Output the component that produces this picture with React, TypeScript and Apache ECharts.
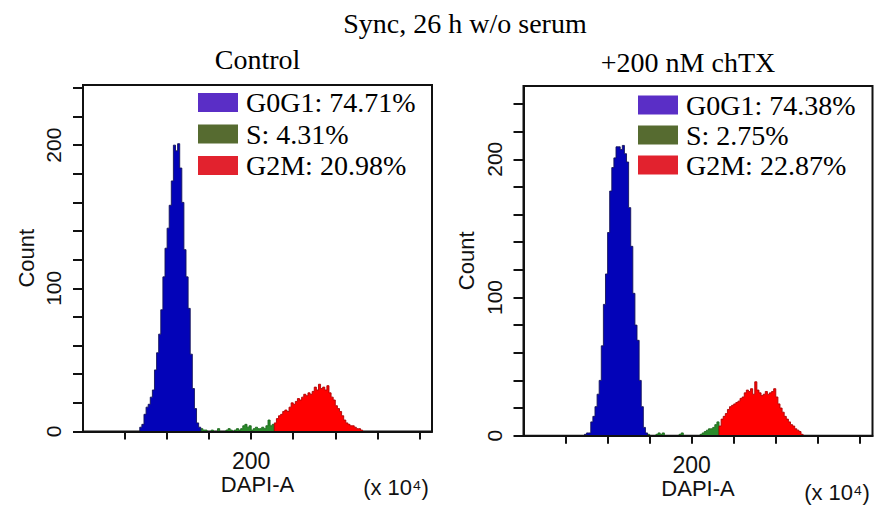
import React, { useEffect, useRef } from "react";
import * as echarts from "echarts";

// ---------- data ----------
const MAIN_TITLE = "Sync, 26 h w/o serum";
const PANEL_TITLES = ["Control", "+200 nM chTX"];
const PHASES = ["G0G1", "S", "G2M"];
const CONTROL_PCT = ["74.71", "4.31", "20.98"];
const CHTX_PCT = ["74.38", "2.75", "22.87"];

// histogram bins: DAPI-A (x10^4), bin width in the same units
const BIN_WIDTH = 2.5;

const CONTROL_STARTS = [67.5, 140, 227.5];
const CONTROL_G0G1 = [3, 5, 12, 17, 19, 24, 29, 43, 55, 68, 85, 108, 128, 142, 158, 175, 200, 196, 201, 184, 160, 127, 108, 86, 54, 30, 16, 6, 3];
const CONTROL_S = [2, 1, 1, 0, 0, 1, 0, 0, 2, 0, 0, 0, 1, 2, 1, 0, 1, 2, 1, 2, 4, 5, 3, 4, 1, 2, 3, 2, 2, 3, 2, 4, 8, 4, 5];
const CONTROL_G2M = [6, 9, 11, 12, 14, 15, 14, 17, 20, 19, 21, 23, 22, 24, 26, 25, 27, 26, 28, 31, 29, 33, 30, 31, 29, 32, 27, 24, 22, 18, 16, 14, 11, 8, 6, 5, 4, 4, 3, 2, 2, 1];

const CHTX_STARTS = [72.5, 147.5, 232.5];
const CHTX_G0G1 = [1, 2, 2, 10, 14, 21, 30, 40, 65, 95, 117, 147, 177, 194, 201, 209, 209, 207, 210, 204, 198, 165, 137, 103, 80, 69, 40, 21, 6, 2];
const CHTX_S = [1, 0, 0, 0, 1, 2, 1, 2, 0, 0, 0, 0, 0, 0, 0, 1, 2, 0, 0, 0, 0, 0, 0, 0, 0, 1, 2, 3, 4, 5, 5, 6, 8, 10];
const CHTX_G2M = [7, 12, 14, 16, 19, 21, 22, 23, 24, 25, 27, 28, 31, 33, 32, 34, 30, 39, 33, 31, 29, 30, 32, 30, 31, 32, 34, 28, 23, 20, 17, 14, 12, 10, 8, 7, 5, 4, 3, 1];

const X_MAX = 415;
const X_TICKS = [50, 100, 150, 200, 250, 300, 350, 400];
const X_LABELS = [200];
const Y_MAX = [242, 253];
const Y_TICKS = [0, 20, 40, 60, 80, 100, 120, 140, 160, 180, 200, 220, 240];
const Y_LABELS = [0, 100, 200];
const X_NAME = "DAPI-A";
const X_UNIT = "(x 10\u2074)";
const Y_NAME = "Count";

// ---------- styles ----------
const SERIF = "'Liberation Serif', 'Times New Roman', serif";
const SANS = "'Liberation Sans', Arial, sans-serif";
const FILL = ["#0303b8", "#2a8a2a", "#ff0000"];
const STROKE = ["#14145a", "#1c6a1c", "#b00000"];
const LEGEND_COLORS = ["#5a2ec6", "#566b30", "#e2222e"];

function histData(start: number, counts: number[]) {
  const pts: number[][] = [[start, 0]];
  counts.forEach((c, i) => pts.push([start + i * BIN_WIDTH, c]));
  pts.push([start + counts.length * BIN_WIDTH, 0]);
  return pts;
}

const PANELS = [
  { pct: CONTROL_PCT, starts: CONTROL_STARTS, counts: [CONTROL_G0G1, CONTROL_S, CONTROL_G2M] },
  { pct: CHTX_PCT, starts: CHTX_STARTS, counts: [CHTX_G0G1, CHTX_S, CHTX_G2M] },
];

const GRIDS = [
  { left: 83, top: 85, width: 349, height: 346.5 },
  { left: 523.5, top: 86, width: 349, height: 349.7 },
];

export default function App() {
  const ref = useRef<HTMLDivElement>(null);
  useEffect(() => {
    if (!ref.current) return;
    const chart = echarts.init(ref.current, undefined, { renderer: "svg" });

    const axisLineStyle = { color: "#111", width: 2 };
    const series: any[] = [];
    const legends: any[] = [];
    PANELS.forEach((p, pi) => {
      const names = PHASES.map((ph, k) => `${ph}: ${p.pct[k]}%`);
      [1, 0, 2].forEach((k) => {
        series.push({
          type: "line",
          name: names[k],
          xAxisIndex: pi,
          yAxisIndex: pi,
          step: "end",
          symbol: "none",
          showSymbol: false,
          silent: true,
          data: histData(p.starts[k], p.counts[k]),
          lineStyle: { color: STROKE[k], width: 0.9 },
          areaStyle: { color: FILL[k], opacity: 1 },
          itemStyle: { color: LEGEND_COLORS[k] },
          z: 2 + (k === 1 ? 0 : 1),
        });
      });
      legends.push({
        orient: "vertical",
        left: pi === 0 ? 198 : 638,
        top: pi === 0 ? 88.5 : 91,
        icon: "rect",
        itemWidth: 40,
        itemHeight: 19,
        itemGap: pi === 0 ? 3.5 : 2,
        selectedMode: false,
        padding: 0,
        data: names.map((n, k) => ({ name: n, itemStyle: { color: LEGEND_COLORS[k], borderWidth: 0 } })),
        textStyle: { fontFamily: SERIF, fontSize: 28, color: "#000", padding: [0, 0, 0, 3] },
      });
    });

    const option: any = {
      animation: false,
      backgroundColor: "#fff",
      grid: GRIDS.map((g) => ({ ...g, show: true, borderColor: "#111", borderWidth: 2, backgroundColor: "transparent" })),
      legend: legends,
      xAxis: GRIDS.map((_, i) => ({
        gridIndex: i,
        type: "value",
        min: 0,
        max: X_MAX,
        interval: 50,
        z: 10,
        splitLine: { show: false },
        axisLine: { show: true, onZero: false, lineStyle: axisLineStyle },
        axisTick: { show: true, length: 8, customValues: X_TICKS, lineStyle: axisLineStyle },
        axisLabel: {
          customValues: X_LABELS,
          formatter: (v: number) => (X_LABELS.includes(v) ? String(v) : ""),
          margin: 18,
          fontFamily: SANS,
          fontSize: 23,
          color: "#111",
        },
        name: X_NAME,
        nameLocation: "middle",
        nameGap: 42,
        nameMoveOverlap: false,
        nameTextStyle: { fontFamily: SANS, fontSize: 22, color: "#111" },
      })),
      yAxis: GRIDS.map((_, i) => ({
        gridIndex: i,
        type: "value",
        min: 0,
        max: Y_MAX[i],
        interval: 20,
        z: 10,
        splitLine: { show: false },
        axisLine: { show: true, onZero: false, lineStyle: axisLineStyle },
        axisTick: { show: true, length: 10, customValues: Y_TICKS, lineStyle: axisLineStyle },
        axisLabel: {
          customValues: Y_LABELS,
          formatter: (v: number) => (Y_LABELS.includes(v) ? String(v) : ""),
          rotate: 90,
          margin: 19,
          fontFamily: SANS,
          fontSize: 21,
          color: "#111",
        },
        name: Y_NAME,
        nameLocation: "middle",
        nameRotate: 90,
        nameGap: 46,
        nameMoveOverlap: false,
        nameTextStyle: { fontFamily: SANS, fontSize: 22, color: "#111" },
      })),
      series,
      graphic: [
        { type: "text", x: 465, y: 23.5, style: { text: MAIN_TITLE, fontFamily: SERIF, fontSize: 28, fill: "#000", align: "center", verticalAlign: "middle" } },
        { type: "text", x: 257.5, y: 59, style: { text: PANEL_TITLES[0], fontFamily: SERIF, fontSize: 28, fill: "#000", align: "center", verticalAlign: "middle" } },
        { type: "text", x: 688, y: 62.5, style: { text: PANEL_TITLES[1], fontFamily: SERIF, fontSize: 28, fill: "#000", align: "center", verticalAlign: "middle" } },
        { type: "text", x: 396, y: 487, style: { text: X_UNIT, fontFamily: SANS, fontSize: 22, fill: "#111", align: "center", verticalAlign: "middle" } },
        { type: "text", x: 837, y: 492, style: { text: X_UNIT, fontFamily: SANS, fontSize: 22, fill: "#111", align: "center", verticalAlign: "middle" } },
      ],
    };
    chart.setOption(option);
    return () => chart.dispose();
  }, []);

  return (
    <div
      ref={ref}
      style={{ position: "fixed", left: 0, top: 0, width: 874, height: 508, background: "#fff" }}
    />
  );
}
